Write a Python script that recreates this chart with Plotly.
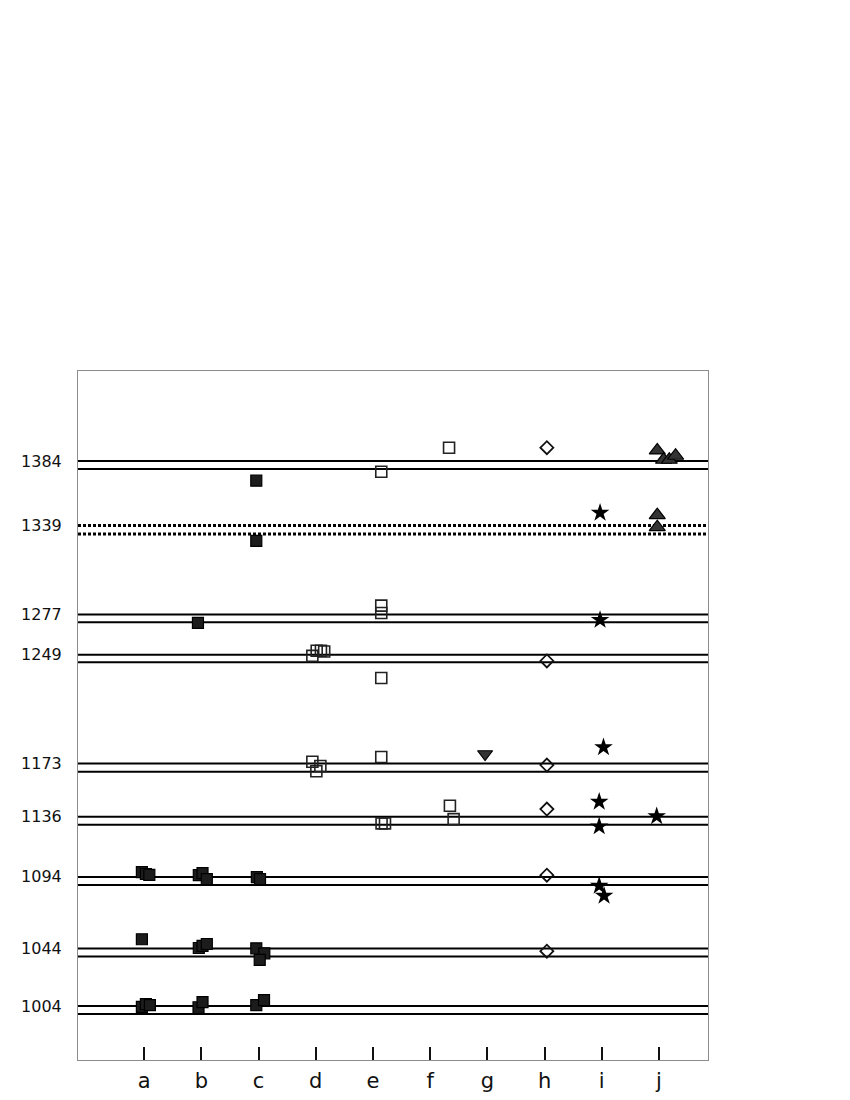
import plotly.graph_objects as go

CATEGORIES = ["a", "b", "c", "d", "e", "f", "g", "h", "i", "j"]

# pairs of reference lines: labelled value and the line just below it
LINE_VALUES = [1384, 1339, 1277, 1249, 1173, 1136, 1094, 1044, 1004]
LINE_LOWER = [1378.4, 1333.2, 1271.5, 1243.6, 1167.4, 1130.4, 1088.4, 1038.4, 998.4]
DOTTED_VALUES = [1339]

# filled squares
FILLED_CAT = ["a", "a", "a", "a", "a", "a", "a",
              "b", "b", "b", "b", "b", "b", "b", "b", "b",
              "c", "c", "c", "c", "c", "c", "c", "c", "c"]
FILLED_OFF = [-0.04, 0.03, 0.09, -0.04, -0.04, 0.03, 0.1,
              -0.045, 0.02, 0.095, -0.06, -0.045, 0.02, 0.095, -0.05, 0.02,
              -0.04, -0.04, -0.03, 0.025, -0.04, 0.1, 0.02, -0.04, 0.095]
FILLED_VAL = [1097.3, 1096.0, 1095.4, 1050.5, 1003.4, 1005.2, 1004.5,
              1095.2, 1096.6, 1092.4, 1271.1, 1044.4, 1045.9, 1047.2, 1003.1, 1006.6,
              1370.3, 1328.4, 1093.8, 1092.4, 1044.2, 1040.7, 1036.1, 1004.5, 1008.0]

# open squares
OPEN_CAT = ["d", "d", "d", "d", "d", "d", "d",
            "e", "e", "e", "e", "e", "e", "e",
            "f", "f", "f"]
OPEN_OFF = [-0.06, 0.016, 0.09, 0.147, -0.06, 0.08, 0.01,
            0.145, 0.145, 0.145, 0.145, 0.145, 0.15, 0.21,
            0.33, 0.345, 0.41]
OPEN_VAL = [1248.1, 1251.7, 1251.7, 1251.2, 1174.3, 1171.3, 1167.7,
            1376.5, 1283.2, 1278.0, 1232.7, 1177.6, 1131.3, 1131.3,
            1393.3, 1143.6, 1134.3]

# down triangle
TRI_DOWN_CAT = ["g"]
TRI_DOWN_OFF = [-0.04]
TRI_DOWN_VAL = [1179.7]

# diamonds
DIAMOND_CAT = ["h", "h", "h", "h", "h", "h"]
DIAMOND_OFF = [0.04, 0.04, 0.04, 0.04, 0.04, 0.04]
DIAMOND_VAL = [1393.3, 1244.6, 1172.0, 1141.3, 1095.2, 1042.2]

# stars
STAR_CAT = ["i", "i", "i", "i", "i", "i", "i", "j"]
STAR_OFF = [-0.03, -0.03, 0.03, -0.045, -0.045, -0.045, 0.04, -0.04]
STAR_VAL = [1347.9, 1273.2, 1184.4, 1146.4, 1129.2, 1087.8, 1080.8, 1136.2]

# up triangles
TRI_UP_CAT = ["j", "j", "j", "j", "j", "j"]
TRI_UP_OFF = [-0.03, 0.08, 0.18, 0.29, -0.03, -0.03]
TRI_UP_VAL = [1391.4, 1384.9, 1384.9, 1387.7, 1346.3, 1337.9]


def positions(cats, offsets):
    return [CATEGORIES.index(c) + o for c, o in zip(cats, offsets)]


fig = go.Figure()

for upper, lower in zip(LINE_VALUES, LINE_LOWER):
    dotted = upper in DOTTED_VALUES
    for val in (upper, lower):
        fig.add_hline(
            y=val,
            opacity=1,
            layer="below",
            line={
                "color": "#000000",
                "width": 3 if dotted else 2,
                "dash": "3px,2px" if dotted else "solid",
            },
        )

fig.add_trace(go.Scatter(
    x=positions(FILLED_CAT, FILLED_OFF), y=FILLED_VAL, mode="markers",
    marker={"symbol": "square", "size": 11, "color": "#1c1c1c",
            "line": {"color": "#000000", "width": 1.2}},
))
fig.add_trace(go.Scatter(
    x=positions(OPEN_CAT, OPEN_OFF), y=OPEN_VAL, mode="markers",
    marker={"symbol": "square-open", "size": 11, "color": "#222222",
            "line": {"width": 1.6}},
))
fig.add_trace(go.Scatter(
    x=positions(TRI_DOWN_CAT, TRI_DOWN_OFF), y=TRI_DOWN_VAL, mode="markers",
    marker={"symbol": "triangle-down", "size": 13, "color": "#333333",
            "line": {"color": "#000000", "width": 1.2}},
))
fig.add_trace(go.Scatter(
    x=positions(DIAMOND_CAT, DIAMOND_OFF), y=DIAMOND_VAL, mode="markers",
    marker={"symbol": "diamond-open", "size": 10, "color": "#111111",
            "line": {"width": 1.8}},
))
fig.add_trace(go.Scatter(
    x=positions(STAR_CAT, STAR_OFF), y=STAR_VAL, mode="markers",
    marker={"symbol": "star", "size": 14, "color": "#000000",
            "line": {"width": 0}},
))
fig.add_trace(go.Scatter(
    x=positions(TRI_UP_CAT, TRI_UP_OFF), y=TRI_UP_VAL, mode="markers",
    marker={"symbol": "triangle-up", "size": 14, "color": "#333333",
            "line": {"color": "#000000", "width": 1.2}},
))

# the page body adds an 8px offset, so margins are shifted to compensate
fig.update_layout(
    width=850,
    height=1100,
    template="none",
    showlegend=False,
    plot_bgcolor="white",
    paper_bgcolor="white",
    margin={"l": 70, "r": 150, "t": 363, "b": 48},
    font={"family": "DejaVu Sans", "color": "#111111"},
)

fig.update_xaxes(
    range=[-1.157, 9.857],
    tickmode="array",
    tickvals=list(range(len(CATEGORIES))),
    ticktext=CATEGORIES,
    ticks="inside",
    ticklen=13,
    tickwidth=1.5,
    tickcolor="#111111",
    tickfont={"size": 21, "family": "DejaVu Sans"},
    ticklabelstandoff=2,
    showline=True,
    linecolor="#8c8c8c",
    linewidth=1,
    mirror=True,
    showgrid=False,
    zeroline=False,
    automargin=False,
)

fig.update_yaxes(
    range=[966.3, 1446.8],
    tickmode="array",
    tickvals=LINE_VALUES,
    ticktext=[str(v) for v in LINE_VALUES],
    ticks="",
    tickfont={"size": 16, "family": "DejaVu Sans"},
    ticklabelstandoff=12,
    showline=True,
    linecolor="#8c8c8c",
    linewidth=1,
    mirror=True,
    showgrid=False,
    zeroline=False,
    automargin=False,
)

fig.write_html("out.html")
